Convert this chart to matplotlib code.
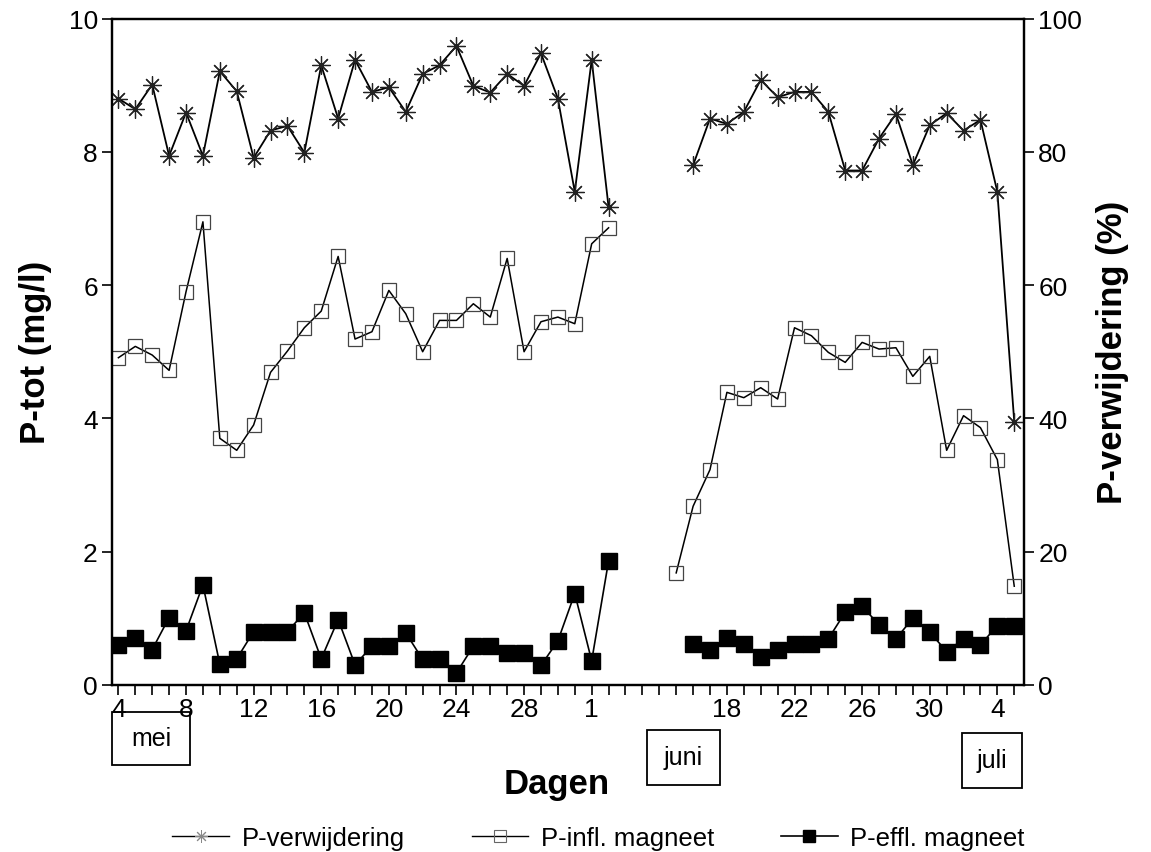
import numpy as np
import matplotlib.pyplot as plt
from matplotlib.patches import Rectangle
from matplotlib.ticker import MultipleLocator
from matplotlib.lines import Line2D

plt.rcParams['font.family'] = ['Liberation Sans', 'DejaVu Sans']

# x axis: one position per sample day, the gap 3 - 14 juni is compressed
tick_pos = [0, 4, 8, 12, 16, 20, 24, 28, 36, 40, 44, 48, 52]
tick_lab = ['4', '8', '12', '16', '20', '24', '28', '1', '18', '22', '26', '30', '4']

pos_mei = np.arange(0, 30)        # 4 mei .. 2 juni
pos_jun = np.arange(34, 54)       # 16 juni .. 5 juli
pos_jun_infl = np.arange(33, 54)  # 15 juni .. 5 juli

# P-verwijdering (%)
verw_mei = [88.0, 86.4, 90.1, 79.4, 85.9, 79.4, 92.1, 89.1, 79.1, 83.2,
            83.9, 79.9, 93.0, 85.0, 93.8, 89.0, 89.7, 86.0, 91.7, 93.0,
            95.9, 89.9, 88.9, 91.7, 89.9, 94.8, 88.0, 74.0, 93.8, 71.7]
verw_jun = [78.0, 85.0, 84.2, 86.0, 90.8, 88.2, 89.0, 89.0, 86.0, 77.2,
            77.2, 82.0, 85.7, 78.0, 84.0, 85.8, 83.2, 84.8, 74.0, 39.5]

# P-infl. magneet (mg/l)
infl_mei = [4.91, 5.08, 4.95, 4.72, 5.90, 6.95, 3.70, 3.52, 3.90, 4.69,
            5.01, 5.36, 5.61, 6.43, 5.19, 5.30, 5.92, 5.57, 5.00, 5.47,
            5.47, 5.72, 5.52, 6.40, 5.00, 5.45, 5.52, 5.42, 6.62, 6.86]
infl_jun = [1.68, 2.68, 3.23, 4.39, 4.31, 4.46, 4.29, 5.36, 5.24, 4.99,
            4.84, 5.14, 5.04, 5.06, 4.63, 4.93, 3.52, 4.04, 3.86, 3.38, 1.48]

# P-effl. magneet (mg/l)
effl_mei = [0.60, 0.71, 0.53, 1.01, 0.81, 1.50, 0.31, 0.39, 0.80, 0.80,
            0.80, 1.08, 0.39, 0.98, 0.30, 0.58, 0.58, 0.78, 0.38, 0.38,
            0.18, 0.58, 0.58, 0.48, 0.48, 0.29, 0.66, 1.37, 0.36, 1.86]
effl_jun = [0.62, 0.52, 0.70, 0.62, 0.42, 0.52, 0.62, 0.62, 0.69, 1.09,
            1.18, 0.90, 0.69, 1.00, 0.79, 0.50, 0.69, 0.60, 0.89, 0.89]


def join(p1, v1, p2, v2):
    # put a NaN between the two periods so the line breaks
    x = np.concatenate([p1, [np.nan], p2])
    y = np.concatenate([v1, [np.nan], v2])
    return x, y


fig = plt.figure(figsize=(11.51, 8.53), dpi=100)
ax = fig.add_axes([0.097, 0.196, 0.793, 0.781])
ax2 = ax.twinx()

x, y = join(pos_mei, effl_mei, pos_jun, effl_jun)
ax.plot(x, y, color='k', lw=1.2, marker='s', ms=11, mfc='k', mec='k')
x, y = join(pos_mei, infl_mei, pos_jun_infl, infl_jun)
ax.plot(x, y, color='k', lw=1.1, marker='s', ms=10, mfc='none', mec='#444444', mew=0.9)
x, y = join(pos_mei, verw_mei, pos_jun, verw_jun)
ax2.plot(x, y, color='k', lw=1.3, marker=(8, 2, 0), ms=13, mec='#222222', mew=0.9)

ax.set_xlim(-0.4, 53.6)
ax.set_ylim(0, 10)
ax2.set_ylim(0, 100)
ax.set_xticks(tick_pos)
ax.set_xticklabels(tick_lab)
ax.xaxis.set_minor_locator(MultipleLocator(1))
ax.set_yticks(np.arange(0, 11, 2))
ax2.set_yticks(np.arange(0, 101, 20))

ax.tick_params(axis='x', which='both', direction='out', length=7, width=1.2, labelsize=19, pad=2)
ax.tick_params(axis='y', direction='out', length=7, width=1.2, labelsize=19, pad=3)
ax2.tick_params(axis='y', direction='out', length=7, width=1.2, labelsize=19, pad=3)
for a in (ax, ax2):
    for s in a.spines.values():
        s.set_linewidth(1.6)

ax.set_ylabel('P-tot (mg/l)', fontsize=25, fontweight='bold', labelpad=12)
ax2.set_ylabel('P-verwijdering (%)', fontsize=25, fontweight='bold', labelpad=10)
fig.text(0.484, 0.080, 'Dagen', fontsize=25, fontweight='bold', ha='center', va='center')

# month boxes
for (x0, y0, w, h, lab) in [(112, 713, 78, 53, 'mei'), (647, 731, 73, 55, 'juni'),
                            (962, 734, 60, 55, 'juli')]:
    fig.add_artist(Rectangle((x0 / 1151, 1 - (y0 + h) / 853), w / 1151, h / 853,
                             transform=fig.transFigure, fill=False, lw=1.3, ec='k'))
    fig.text((x0 + w / 2) / 1151, 1 - (y0 + h / 2) / 853, lab, fontsize=18,
             ha='center', va='center')

handles = [
    Line2D([], [], color='k', lw=1.0, marker=(8, 2, 0), ms=9, mec='#888888', mew=0.7),
    Line2D([], [], color='k', lw=1.0, marker='s', ms=8, mfc='none', mec='#666666', mew=0.8),
    Line2D([], [], color='k', lw=1.2, marker='s', ms=9, mfc='k'),
]
fig.legend(handles, ['P-verwijdering', 'P-infl. magneet', 'P-effl. magneet'],
           loc='center', bbox_to_anchor=(0.52, 0.016), ncol=3, frameon=False,
           fontsize=18.5, handlelength=2.2, columnspacing=2.6, handletextpad=0.5)

fig.savefig('out.png', dpi=100)
